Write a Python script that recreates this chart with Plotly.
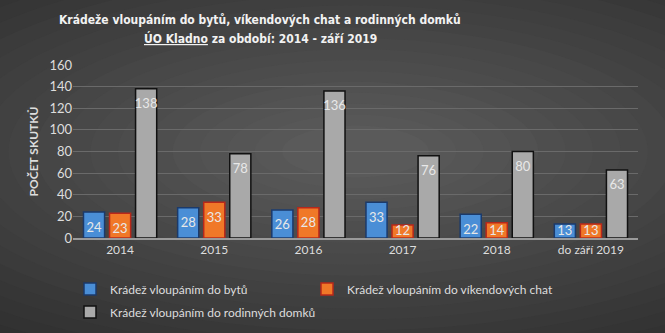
import plotly.graph_objects as go

# Burglary counts per period
periods = ["2014", "2015", "2016", "2017", "2018", "do září 2019"]
byty = [24, 28, 26, 33, 22, 13]
chaty = [23, 33, 28, 12, 14, 13]
domky = [138, 78, 136, 76, 80, 63]

series = [
    ("Krádež vloupáním do bytů", byty, "#4a8ed6", "#1b3a6b", "legend"),
    ("Krádež vloupáním do víkendových chat", chaty, "#f07828", "#b8281a", "legend3"),
    ("Krádež vloupáním do rodinných domků", domky, "#a9a9a9", "#111111", "legend2"),
]

BODY_FONT = "Lato, Carlito, Liberation Sans, sans-serif"
LABEL_FLOOR = 21  # short bars keep their value label just above the axis

fig = go.Figure()
for i, (name, vals, fill, edge, leg) in enumerate(series):
    fig.add_trace(go.Bar(
        name=name, x=periods, y=vals, legend=leg,
        offsetgroup=str(i),
        marker=dict(color=fill, line=dict(color=edge, width=1.5)),
    ))
for i, (name, vals, fill, edge, leg) in enumerate(series):
    fig.add_trace(go.Scatter(
        x=periods, y=[max(v, LABEL_FLOOR) for v in vals],
        offsetgroup=str(i), mode="markers+text",
        marker=dict(size=14, color="rgba(0,0,0,0)"),
        text=[str(v) for v in vals], textposition="bottom center",
        textfont=dict(family=BODY_FONT, size=13, color="#e8e8e8"),
        showlegend=False, hoverinfo="skip", cliponaxis=False,
    ))

# Radial backdrop: stacked ellipses from dark edge to lighter centre
shapes = []
steps = 20
for i in range(steps):
    t = i / (steps - 1)
    g = int(0x30 + (0x5a - 0x30) * t)
    rx = 1.05 - 0.92 * t
    ry = 1.35 - 1.2 * t
    cx, cy = 0.5, 0.5
    shapes.append(dict(
        type="circle", xref="paper", yref="paper", layer="below",
        x0=cx - rx, x1=cx + rx, y0=cy - ry, y1=cy + ry,
        fillcolor=f"rgb({g},{g},{g})", line=dict(width=0), opacity=1,
    ))

title_font = dict(family="DejaVu Sans Condensed, DejaVu Sans", size=12, color="#f2f2f2", weight="bold")
annotations = [
    dict(text="Krádeže vloupáním do bytů, víkendových chat a rodinných domků",
         xref="paper", yref="paper", x=(260 - 73) / 565, y=1 + (65 - 20) / 173,
         xanchor="center", yanchor="middle", showarrow=False, font=title_font),
    dict(text="<span style='text-decoration:underline'>ÚO Kladno</span> za období: 2014 - září 2019",
         xref="paper", yref="paper", x=(260 - 73) / 565, y=1 + (65 - 39) / 173,
         xanchor="center", yanchor="middle", showarrow=False, font=title_font),
]

legend_common = dict(
    orientation="h", xref="container", xanchor="left", yref="container",
    yanchor="middle", font=dict(size=12, color="#dddddd"),
    bgcolor="rgba(0,0,0,0)", traceorder="normal", itemclick=False,
)

fig.update_layout(
    width=665, height=333,
    margin=dict(l=73, r=27, t=65, b=95),
    paper_bgcolor="#303030", plot_bgcolor="rgba(0,0,0,0)",
    shapes=shapes, annotations=annotations,
    barmode="group", bargap=0.17, bargroupgap=0.19,
    scattermode="group", scattergap=0.17,
    font=dict(family=BODY_FONT, color="#dddddd"),
    xaxis=dict(
        showgrid=False, showline=True, linecolor="#9a9a9a", linewidth=2,
        tickfont=dict(size=12, color="#dddddd"), ticks="",
    ),
    yaxis=dict(
        range=[0, 160], dtick=20, gridcolor="#6a6a6a", gridwidth=1,
        zeroline=False, tickfont=dict(size=13, color="#dddddd"),
        title=dict(text="<b>POČET SKUTKŮ</b>", font=dict(size=12, color="#dddddd"), standoff=8),
    ),
    legend=dict(legend_common, x=70 / 665, y=1 - 289 / 333),
    legend3=dict(legend_common, x=307 / 665, y=1 - 289 / 333),
    legend2=dict(legend_common, x=70 / 665, y=1 - 312 / 333),
    showlegend=True,
)

fig.write_html("out.html")
